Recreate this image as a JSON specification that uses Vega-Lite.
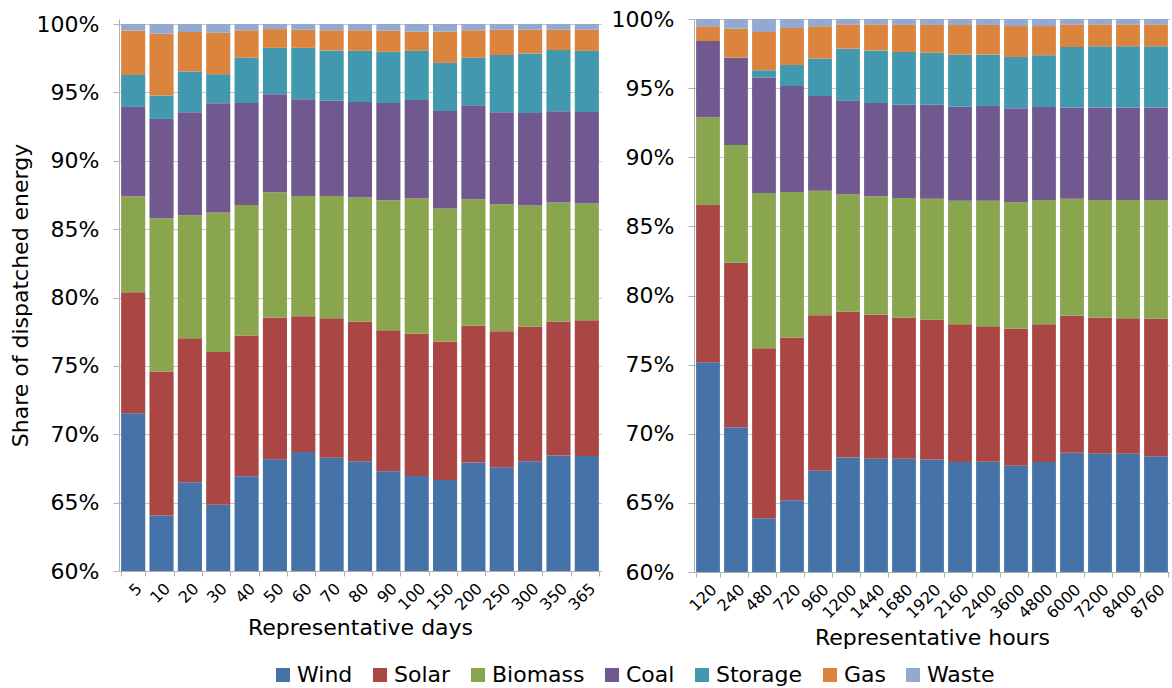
{
  "$schema": "https://vega.github.io/schema/vega-lite/v6.json",
  "padding": {"left": 9, "top": 8, "right": 0, "bottom": 0},
  "spacing": 10,
  "datasets": {
    "stackorder": [
      {"source":"Wind","rank":1},{"source":"Solar","rank":2},{"source":"Biomass","rank":3},{"source":"Coal","rank":4},
      {"source":"Storage","rank":5},{"source":"Gas","rank":6},{"source":"Waste","rank":7}
    ],
    "days": [
      {"days":"5","Wind":71.54,"Solar":8.85,"Biomass":7.02,"Coal":6.53,"Storage":2.34,"Gas":3.23,"Waste":0.49},
      {"days":"10","Wind":64.05,"Solar":10.54,"Biomass":11.21,"Coal":7.26,"Storage":1.71,"Gas":4.52,"Waste":0.71},
      {"days":"20","Wind":66.49,"Solar":10.53,"Biomass":8.99,"Coal":7.54,"Storage":2.98,"Gas":2.88,"Waste":0.59},
      {"days":"30","Wind":64.85,"Solar":11.17,"Biomass":10.19,"Coal":8.00,"Storage":2.12,"Gas":3.03,"Waste":0.64},
      {"days":"40","Wind":66.93,"Solar":10.29,"Biomass":9.55,"Coal":7.46,"Storage":3.30,"Gas":2.01,"Waste":0.46},
      {"days":"50","Wind":68.17,"Solar":10.37,"Biomass":9.16,"Coal":7.17,"Storage":3.39,"Gas":1.37,"Waste":0.37},
      {"days":"60","Wind":68.71,"Solar":9.92,"Biomass":8.80,"Coal":7.07,"Storage":3.76,"Gas":1.32,"Waste":0.42},
      {"days":"70","Wind":68.29,"Solar":10.20,"Biomass":8.94,"Coal":6.95,"Storage":3.69,"Gas":1.47,"Waste":0.46},
      {"days":"80","Wind":68.02,"Solar":10.22,"Biomass":9.07,"Coal":6.99,"Storage":3.74,"Gas":1.50,"Waste":0.46},
      {"days":"90","Wind":67.29,"Solar":10.32,"Biomass":9.50,"Coal":7.12,"Storage":3.74,"Gas":1.54,"Waste":0.49},
      {"days":"100","Wind":66.95,"Solar":10.42,"Biomass":9.89,"Coal":7.19,"Storage":3.59,"Gas":1.40,"Waste":0.56},
      {"days":"150","Wind":66.66,"Solar":10.12,"Biomass":9.72,"Coal":7.14,"Storage":3.52,"Gas":2.28,"Waste":0.56},
      {"days":"200","Wind":67.93,"Solar":10.00,"Biomass":9.26,"Coal":6.87,"Storage":3.47,"Gas":2.01,"Waste":0.46},
      {"days":"250","Wind":67.59,"Solar":9.95,"Biomass":9.28,"Coal":6.73,"Storage":4.18,"Gas":1.85,"Waste":0.42},
      {"days":"300","Wind":68.02,"Solar":9.86,"Biomass":8.84,"Coal":6.78,"Storage":4.35,"Gas":1.73,"Waste":0.42},
      {"days":"350","Wind":68.44,"Solar":9.80,"Biomass":8.70,"Coal":6.68,"Storage":4.47,"Gas":1.49,"Waste":0.42},
      {"days":"365","Wind":68.41,"Solar":9.93,"Biomass":8.55,"Coal":6.68,"Storage":4.47,"Gas":1.54,"Waste":0.42}
    ],
    "hours": [
      {"hours":"120","Wind":75.17,"Solar":11.37,"Biomass":6.35,"Coal":5.52,"Storage":0,"Gas":1.06,"Waste":0.53},
      {"hours":"240","Wind":70.46,"Solar":11.91,"Biomass":8.52,"Coal":6.31,"Storage":0,"Gas":2.10,"Waste":0.70},
      {"hours":"480","Wind":63.89,"Solar":12.29,"Biomass":11.23,"Coal":8.35,"Storage":0.53,"Gas":2.77,"Waste":0.94},
      {"hours":"720","Wind":65.19,"Solar":11.77,"Biomass":10.52,"Coal":7.67,"Storage":1.52,"Gas":2.68,"Waste":0.65},
      {"hours":"960","Wind":67.32,"Solar":11.25,"Biomass":9.01,"Coal":6.85,"Storage":2.72,"Gas":2.32,"Waste":0.53},
      {"hours":"1200","Wind":68.28,"Solar":10.56,"Biomass":8.48,"Coal":6.80,"Storage":3.73,"Gas":1.76,"Waste":0.39},
      {"hours":"1440","Wind":68.19,"Solar":10.41,"Biomass":8.57,"Coal":6.75,"Storage":3.81,"Gas":1.88,"Waste":0.39},
      {"hours":"1680","Wind":68.19,"Solar":10.22,"Biomass":8.64,"Coal":6.75,"Storage":3.81,"Gas":1.96,"Waste":0.43},
      {"hours":"1920","Wind":68.14,"Solar":10.10,"Biomass":8.76,"Coal":6.80,"Storage":3.76,"Gas":2.01,"Waste":0.43},
      {"hours":"2160","Wind":67.95,"Solar":9.97,"Biomass":8.94,"Coal":6.80,"Storage":3.76,"Gas":2.15,"Waste":0.43},
      {"hours":"2400","Wind":67.97,"Solar":9.81,"Biomass":9.08,"Coal":6.85,"Storage":3.71,"Gas":2.15,"Waste":0.43},
      {"hours":"3600","Wind":67.68,"Solar":9.93,"Biomass":9.13,"Coal":6.80,"Storage":3.71,"Gas":2.24,"Waste":0.51},
      {"hours":"4800","Wind":67.95,"Solar":9.97,"Biomass":8.99,"Coal":6.72,"Storage":3.74,"Gas":2.12,"Waste":0.51},
      {"hours":"6000","Wind":68.62,"Solar":9.91,"Biomass":8.47,"Coal":6.59,"Storage":4.38,"Gas":1.64,"Waste":0.39},
      {"hours":"7200","Wind":68.55,"Solar":9.86,"Biomass":8.50,"Coal":6.68,"Storage":4.43,"Gas":1.59,"Waste":0.39},
      {"hours":"8400","Wind":68.55,"Solar":9.81,"Biomass":8.55,"Coal":6.68,"Storage":4.43,"Gas":1.59,"Waste":0.39},
      {"hours":"8760","Wind":68.38,"Solar":9.93,"Biomass":8.60,"Coal":6.68,"Storage":4.43,"Gas":1.59,"Waste":0.39}
    ]
  },
  "hconcat": [
    {
      "width": 482,
      "height": 552,
      "data": {"name": "days"},
      "transform": [
        {"fold": ["Wind","Solar","Biomass","Coal","Storage","Gas","Waste"], "as": ["source","share"]},
        {"lookup": "source", "from": {"data": {"name": "stackorder"}, "key": "source", "fields": ["rank"]}}
      ],
      "mark": {"type": "bar", "clip": true},
      "encoding": {
        "x": {"field": "days", "type": "ordinal", "sort": null, "title": "Representative days",
              "scale": {"paddingInner": 0.15, "paddingOuter": 0.075},
              "axis": {"labelAngle": -45, "labelFontSize": 16, "tickSize": 5, "tickBand": "extent", "grid": false, "titleFontSize": 22, "titlePadding": 5, "labelPadding": 4}},
        "y": {"field": "share", "type": "quantitative", "stack": "zero", "scale": {"domain": [60, 100.366], "nice": false},
              "title": "Share of dispatched energy",
              "axis": {"values": [60,65,70,75,80,85,90,95,100], "labelExpr": "datum.value + '%'", "labelFontSize": 22, "tickSize": 6, "labelPadding": 14, "titleFontSize": 22, "titlePadding": 4, "grid": true}},
        "color": {"field": "source", "type": "nominal",
                  "sort": ["Wind","Solar","Biomass","Coal","Storage","Gas","Waste"],
                  "scale": {"domain": ["Wind","Solar","Biomass","Coal","Storage","Gas","Waste"], "range": ["#4572A7","#AA4643","#89A54E","#71588F","#4198AF","#DB843D","#93A9CF"]},
                  "legend": {"title": null, "orient": "none", "legendX": 153, "legendY": 645, "direction": "horizontal", "labelFontSize": 22, "symbolType": "square", "symbolSize": 196, "symbolStrokeWidth": 0, "labelOffset": 3, "columnPadding": 16}},
        "order": {"field": "rank", "type": "quantitative", "sort": "ascending"}
      }
    },
    {
      "width": 476,
      "height": 553,
      "data": {"name": "hours"},
      "transform": [
        {"fold": ["Wind","Solar","Biomass","Coal","Storage","Gas","Waste"], "as": ["source","share"]},
        {"lookup": "source", "from": {"data": {"name": "stackorder"}, "key": "source", "fields": ["rank"]}}
      ],
      "mark": {"type": "bar", "clip": true},
      "encoding": {
        "x": {"field": "hours", "type": "ordinal", "sort": null, "title": "Representative hours",
              "scale": {"paddingInner": 0.15, "paddingOuter": 0.075},
              "axis": {"labelAngle": -45, "labelFontSize": 16, "tickSize": 5, "tickBand": "extent", "grid": false, "titleFontSize": 22, "titlePadding": 6, "labelPadding": 4}},
        "y": {"field": "share", "type": "quantitative", "stack": "zero", "scale": {"domain": [60, 100], "nice": false},
              "title": null,
              "axis": {"values": [60,65,70,75,80,85,90,95,100], "labelExpr": "datum.value + '%'", "labelFontSize": 22, "tickSize": 6, "labelPadding": 14, "grid": true}},
        "color": {"field": "source", "type": "nominal",
                  "sort": ["Wind","Solar","Biomass","Coal","Storage","Gas","Waste"],
                  "scale": {"domain": ["Wind","Solar","Biomass","Coal","Storage","Gas","Waste"], "range": ["#4572A7","#AA4643","#89A54E","#71588F","#4198AF","#DB843D","#93A9CF"]}},
        "order": {"field": "rank", "type": "quantitative", "sort": "ascending"}
      }
    }
  ],
  "config": {
    "font": "DejaVu Sans",
    "view": {"stroke": null},
    "axis": {"labelFont": "DejaVu Sans", "titleFont": "DejaVu Sans", "labelColor": "#000", "titleColor": "#000", "titleFontWeight": "normal", "domainColor": "#b0b0b0", "tickColor": "#b0b0b0", "gridColor": "#c4c4c4"},
    "legend": {"labelFont": "DejaVu Sans", "labelColor": "#000"}
  }
}
